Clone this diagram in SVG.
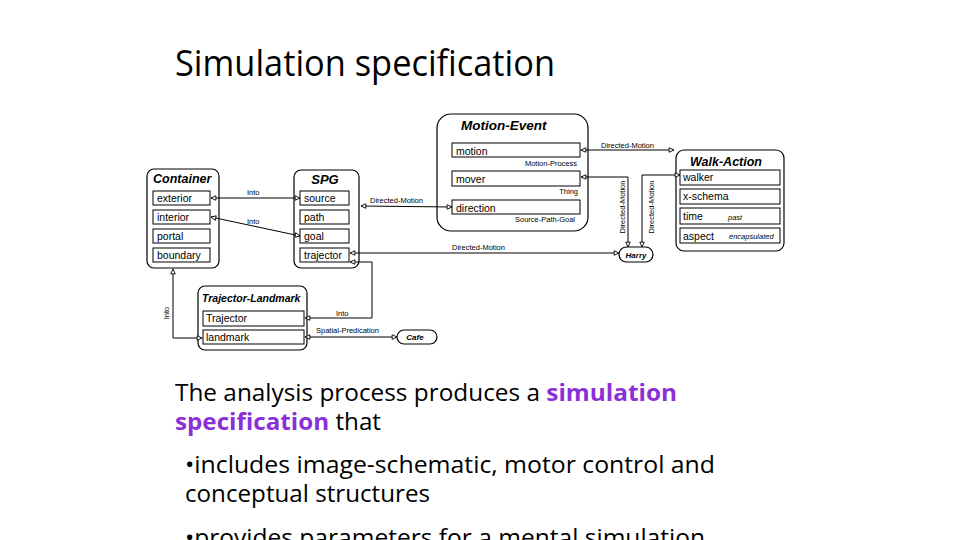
<svg xmlns="http://www.w3.org/2000/svg" width="960" height="540" viewBox="0 0 960 540">
<style>
.frame{fill:#fff;stroke:#000;stroke-width:1.2}
.slot{fill:#fff;stroke:#000;stroke-width:1}
.ttl{font-family:"Liberation Sans",Arial,sans-serif;font-weight:bold;font-style:italic;fill:#000}
.lbl{font-family:"Liberation Sans",Arial,sans-serif;font-size:10.5px;fill:#000}
.sm{font-family:"Liberation Sans",Arial,sans-serif;font-size:7.5px;fill:#000}
.it{font-family:"Liberation Sans",Arial,sans-serif;font-size:7.5px;font-style:italic;fill:#000}
.con{fill:none;stroke:#000;stroke-width:1;marker-start:url(#ah);marker-end:url(#ah)}
.body{font-family:"Segoe UI","Open Sans","Noto Sans",sans-serif;fill:#000}
.hl{font-weight:bold;fill:#8B2FD9}
</style>
<defs>
<marker id="ah" viewBox="0 0 8 8" refX="7.5" refY="4" markerWidth="6" markerHeight="6" markerUnits="userSpaceOnUse" orient="auto-start-reverse">
<path d="M1,1 L7.5,4 L1,7 Z" fill="#fff" stroke="#000" stroke-width="1.2"/>
</marker>
</defs>
<rect width="960" height="540" fill="#fff"/>
<text class="body" x="175" y="76" font-size="36" textLength="380" lengthAdjust="spacingAndGlyphs">Simulation specification</text>

<g id="motion-event">
<rect class="frame" x="437" y="114" width="151" height="117" rx="14"/>
<text class="ttl" x="461" y="130" font-size="13.5">Motion-Event</text>
<rect class="slot" x="452" y="143" width="128" height="14"/>
<text class="lbl" x="456" y="155">motion</text>
<text class="sm" x="577" y="166" text-anchor="end">Motion-Process</text>
<rect class="slot" x="452" y="171" width="128" height="15"/>
<text class="lbl" x="456" y="183">mover</text>
<text class="sm" x="578" y="194" text-anchor="end">Thing</text>
<rect class="slot" x="452" y="200" width="128" height="14"/>
<text class="lbl" x="456" y="212">direction</text>
<text class="sm" x="575" y="222" text-anchor="end">Source-Path-Goal</text>
</g>

<g id="container">
<rect class="frame" x="147" y="169" width="72" height="99" rx="7"/>
<text class="ttl" x="153" y="183" font-size="12.5">Container</text>
<rect class="slot" x="153" y="191" width="57" height="14"/>
<text class="lbl" x="157" y="202">exterior</text>
<rect class="slot" x="153" y="210" width="57" height="14"/>
<text class="lbl" x="157" y="221">interior</text>
<rect class="slot" x="153" y="229" width="57" height="14"/>
<text class="lbl" x="157" y="240">portal</text>
<rect class="slot" x="153" y="248" width="57" height="14"/>
<text class="lbl" x="157" y="259">boundary</text>
</g>

<g id="spg">
<rect class="frame" x="294" y="170" width="65" height="98" rx="7"/>
<text class="ttl" x="325" y="184" font-size="13" text-anchor="middle">SPG</text>
<rect class="slot" x="300" y="191" width="49" height="14"/>
<text class="lbl" x="304" y="202">source</text>
<rect class="slot" x="300" y="210" width="49" height="14"/>
<text class="lbl" x="304" y="221">path</text>
<rect class="slot" x="300" y="229" width="49" height="14"/>
<text class="lbl" x="304" y="240">goal</text>
<rect class="slot" x="300" y="248" width="49" height="14"/>
<text class="lbl" x="304" y="259">trajector</text>
</g>

<g id="walk-action">
<rect class="frame" x="676" y="150" width="108" height="101" rx="8"/>
<text class="ttl" x="690" y="166" font-size="12.5">Walk-Action</text>
<rect class="slot" x="680" y="170" width="100" height="15"/>
<text class="lbl" x="683" y="181">walker</text>
<rect class="slot" x="680" y="189" width="100" height="15"/>
<text class="lbl" x="683" y="200">x-schema</text>
<rect class="slot" x="680" y="208" width="100" height="16"/>
<text class="lbl" x="683" y="220">time</text>
<text class="it" x="728" y="220">past</text>
<rect class="slot" x="680" y="228" width="100" height="15"/>
<text class="lbl" x="683" y="240">aspect</text>
<text class="it" x="729" y="239">encapsulated</text>
</g>

<g id="trajector-landmark">
<rect class="frame" x="198" y="286" width="109" height="64" rx="7"/>
<text class="ttl" x="202" y="302" font-size="10.5">Trajector-Landmark</text>
<rect class="slot" x="203" y="311" width="101" height="15"/>
<text class="lbl" x="206" y="322">Trajector</text>
<rect class="slot" x="203" y="330" width="101" height="14"/>
<text class="lbl" x="206" y="341">landmark</text>
</g>

<g id="harry">
<rect class="frame" x="619" y="247" width="34" height="15" rx="7.5"/>
<text class="ttl" x="636" y="258" font-size="8" text-anchor="middle">Harry</text>
</g>

<g id="cafe">
<rect class="frame" x="397" y="330" width="40" height="14" rx="7"/>
<text class="ttl" x="415" y="340" font-size="8" text-anchor="middle">Cafe</text>
</g>

<g id="connectors">
<path class="con" d="M211,198 L300,198" stroke-width="2"/>
<path class="con" d="M211,217 L300,236"/>
<path class="con" d="M361,206 L452,207"/>
<path class="con" d="M581,150 L674,150"/>
<path class="con" d="M581,177 L628,177 L628,247"/>
<path class="con" d="M680,175 L642,175 L642,247"/>
<path class="con" d="M350,253 L619,253"/>
<path class="con" d="M350,262 L372,262 L372,318 L305,318"/>
<path class="con" d="M173,269 L173,338 L202,338"/>
<path class="con" d="M305,337 L397,337"/>
<text class="sm" x="247" y="195">Into</text>
<text class="sm" x="247" y="224">Into</text>
<text class="sm" x="370" y="203">Directed-Motion</text>
<text class="sm" x="601" y="148">Directed-Motion</text>
<text class="sm" x="452" y="250">Directed-Motion</text>
<text class="sm" transform="translate(625,207) rotate(-90)" text-anchor="middle">Directed-Motion</text>
<text class="sm" transform="translate(654,207) rotate(-90)" text-anchor="middle">Directed-Motion</text>
<text class="sm" transform="translate(169,313) rotate(-90)" text-anchor="middle">Into</text>
<text class="sm" x="336" y="316">Into</text>
<text class="sm" x="316" y="333">Spatial-Predication</text>
</g>

<text class="body" x="175" y="401" font-size="23" textLength="502" lengthAdjust="spacingAndGlyphs">The analysis process produces a <tspan class="hl">simulation</tspan></text>
<text class="body" x="175" y="430" font-size="23" textLength="206" lengthAdjust="spacingAndGlyphs"><tspan class="hl">specification</tspan> that</text>
<text class="body" x="185" y="473" font-size="23" textLength="530" lengthAdjust="spacingAndGlyphs">•includes image-schematic, motor control and</text>
<text class="body" x="185" y="502" font-size="23" textLength="245" lengthAdjust="spacingAndGlyphs">conceptual structures</text>
<text class="body" x="185" y="546" font-size="23" textLength="520" lengthAdjust="spacingAndGlyphs">•provides parameters for a mental simulation</text>
</svg>
